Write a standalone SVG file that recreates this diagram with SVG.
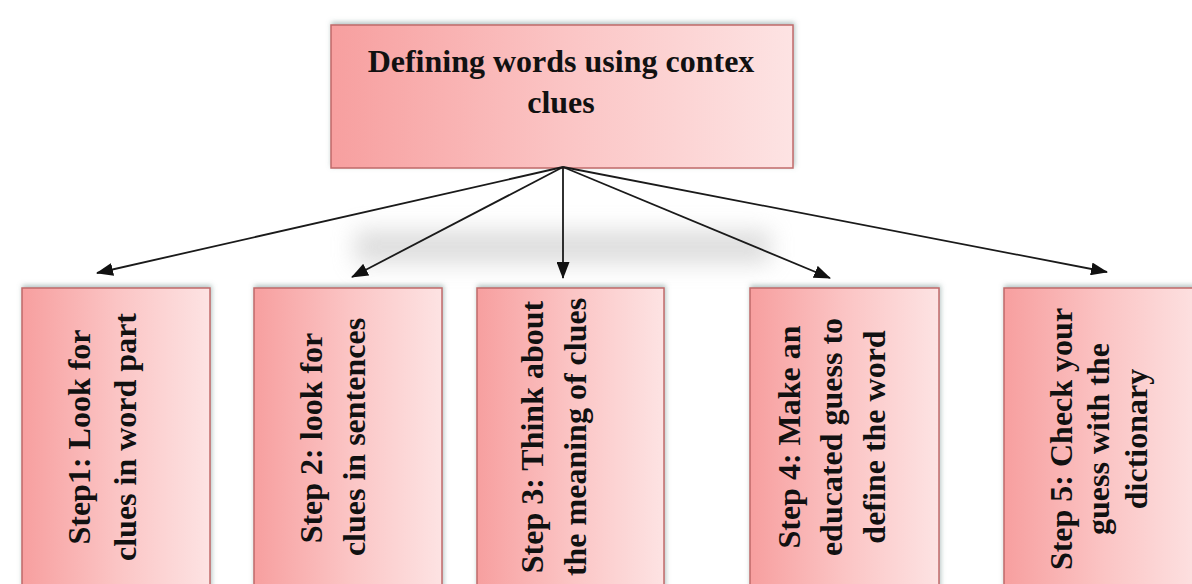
<svg xmlns="http://www.w3.org/2000/svg" width="1192" height="584" viewBox="0 0 1192 584">
  <defs>
    <linearGradient id="pink" x1="0" y1="0" x2="1" y2="0">
      <stop offset="0" stop-color="#f79f9f"/>
      <stop offset="0.5" stop-color="#fbc4c4"/>
      <stop offset="1" stop-color="#fde3e3"/>
    </linearGradient>
    <filter id="shadow" x="-10%" y="-10%" width="120%" height="120%">
      <feDropShadow dx="1" dy="-2" stdDeviation="2.5" flood-color="#6f8f8a" flood-opacity="0.55"/>
    </filter>
    <filter id="blur" x="-20%" y="-100%" width="140%" height="300%">
      <feGaussianBlur stdDeviation="11"/>
    </filter>
    <marker id="arrow" markerWidth="17" markerHeight="13" refX="16" refY="6.5" orient="auto" markerUnits="userSpaceOnUse">
      <path d="M0,0 L17,6.5 L0,13 Z" fill="#111"/>
    </marker>
  </defs>
  <style>
    .box { fill: url(#pink); stroke: #c06a6a; stroke-width: 1.5; filter: url(#shadow); }
    .t { font-family: "Liberation Serif", "Times New Roman", serif; font-weight: bold; font-size: 32px; fill: #111111; text-anchor: middle; }
    .conn { stroke: #1a1a1a; stroke-width: 1.8; fill: none; marker-end: url(#arrow); }
  </style>
  <rect x="0" y="0" width="1192" height="584" fill="#ffffff"/>
  <rect x="355" y="230" width="415" height="34" fill="#c8c8c8" opacity="0.6" filter="url(#blur)"/>

  <g id="top">
    <rect class="box" x="331" y="25" width="462" height="143"/>
    <text class="t" x="561" y="72">Defining words using contex</text>
    <text class="t" x="561" y="113">clues</text>
  </g>

  <g id="connectors">
    <line class="conn" x1="563" y1="167" x2="97" y2="273"/>
    <line class="conn" x1="563" y1="167" x2="352" y2="277"/>
    <line class="conn" x1="563" y1="167" x2="563" y2="278"/>
    <line class="conn" x1="563" y1="167" x2="830" y2="278"/>
    <line class="conn" x1="563" y1="167" x2="1107" y2="272"/>
  </g>

  <g id="step1">
    <rect class="box" x="22" y="288" width="188" height="310"/>
    <text class="t" transform="translate(90,437) rotate(-90)">Step1: Look for</text>
    <text class="t" transform="translate(136,437) rotate(-90)">clues in word part</text>
  </g>
  <g id="step2">
    <rect class="box" x="254" y="288" width="188" height="310"/>
    <text class="t" transform="translate(322,438) rotate(-90)">Step 2: look for</text>
    <text class="t" transform="translate(365,437) rotate(-90)">clues in sentences</text>
  </g>
  <g id="step3">
    <rect class="box" x="477" y="288" width="187" height="310"/>
    <text class="t" transform="translate(543,437) rotate(-90)">Step 3: Think about</text>
    <text class="t" transform="translate(586,437) rotate(-90)">the meaning of clues</text>
  </g>
  <g id="step4">
    <rect class="box" x="750" y="288" width="189" height="310"/>
    <text class="t" transform="translate(800,437) rotate(-90)">Step 4: Make an</text>
    <text class="t" transform="translate(842,437) rotate(-90)">educated guess to</text>
    <text class="t" transform="translate(885,437) rotate(-90)">define the word</text>
  </g>
  <g id="step5">
    <rect class="box" x="1004" y="288" width="200" height="310"/>
    <text class="t" transform="translate(1072,439) rotate(-90)">Step 5: Check your</text>
    <text class="t" transform="translate(1109,439) rotate(-90)">guess with the</text>
    <text class="t" transform="translate(1147,439) rotate(-90)">dictionary</text>
  </g>
</svg>
